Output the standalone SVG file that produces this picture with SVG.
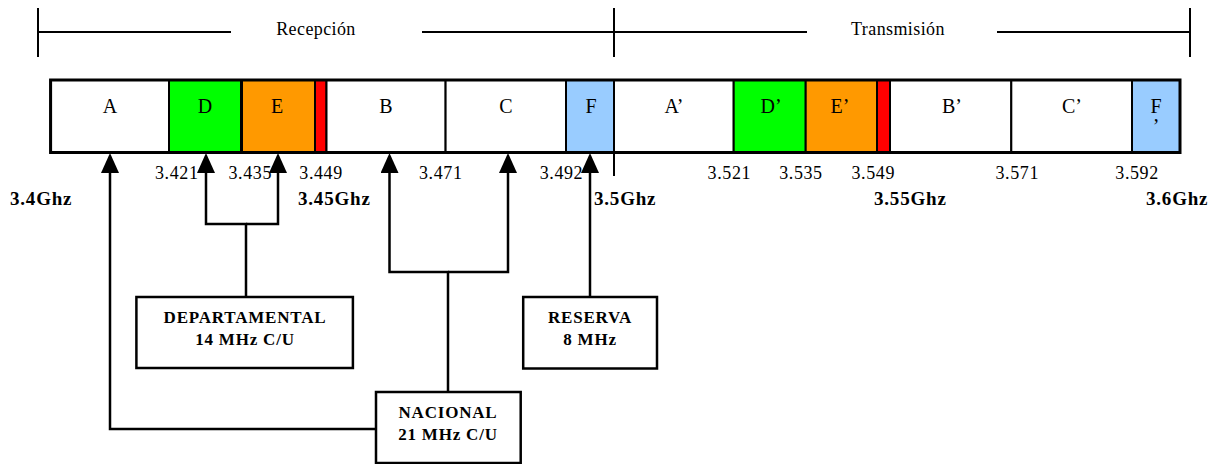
<svg xmlns="http://www.w3.org/2000/svg" width="1224" height="464" viewBox="0 0 1224 464">
<style>
.t{font-family:"Liberation Serif","Times New Roman",serif;fill:#000}
.hdr{font-size:18px;letter-spacing:0.4px;text-anchor:middle}
.lbl{font-size:20px;text-anchor:middle}
.frq{font-size:18px;letter-spacing:0.6px}
.ghz{font-size:19px;font-weight:bold;letter-spacing:0.8px}
.nd{font-size:17px;font-weight:bold;letter-spacing:0.8px;text-anchor:middle}
.cell{stroke:#000;stroke-width:2}
.w{fill:#fff}.g{fill:#00ff00}.o{fill:#ff9900}.r{fill:#ff0000}.b{fill:#99ccff}
.ln{fill:none;stroke:#000;stroke-width:2.5}
.br{fill:none;stroke:#000;stroke-width:2}
.box{fill:#fff;stroke:#000;stroke-width:2.5}
</style>
<defs>
<marker id="ah" viewBox="0 0 20 18" refX="13" refY="9" markerWidth="20" markerHeight="18" orient="auto" markerUnits="userSpaceOnUse">
<path d="M0,0 L20,9 L0,18 z" fill="#000"/>
</marker>
</defs>
<g id="brackets">
<path class="br" d="M38,8 V57 M38,32 H231 M422,32 H614 M614,8 V57 M614,32 H807 M997,32 H1190 M1190,8 V57"/>
<text class="t hdr" x="316" y="35">Recepción</text>
<text class="t hdr" x="898" y="35">Transmisión</text>
</g>
<g id="band">
<g id="cell-A"><rect class="cell w" x="50.6" y="80" width="118.4" height="72.5"/><text class="t lbl" x="110" y="113">A</text></g>
<g id="cell-D"><rect class="cell g" x="169" y="80" width="72" height="72.5"/><text class="t lbl" x="205" y="113">D</text></g>
<g id="cell-E"><rect class="cell o" x="242" y="80" width="73" height="72.5"/><text class="t lbl" x="277" y="113">E</text></g>
<g id="cell-R1"><rect class="cell r" x="315" y="80" width="11.5" height="72.5"/></g>
<g id="cell-B"><rect class="cell w" x="326.5" y="80" width="119.1" height="72.5"/><text class="t lbl" x="386" y="113">B</text></g>
<g id="cell-C"><rect class="cell w" x="445.6" y="80" width="120.4" height="72.5"/><text class="t lbl" x="506" y="113">C</text></g>
<g id="cell-F"><rect class="cell b" x="566" y="80" width="48" height="72.5"/><text class="t lbl" x="591" y="113">F</text></g>
<g id="cell-A2"><rect class="cell w" x="614" y="80" width="119.7" height="72.5"/><text class="t lbl" x="674" y="113">A’</text></g>
<g id="cell-D2"><rect class="cell g" x="733.7" y="80" width="72" height="72.5"/><text class="t lbl" x="771" y="113">D’</text></g>
<g id="cell-E2"><rect class="cell o" x="805.7" y="80" width="71.3" height="72.5"/><text class="t lbl" x="840" y="113">E’</text></g>
<g id="cell-R2"><rect class="cell r" x="877" y="80" width="13" height="72.5"/></g>
<g id="cell-B2"><rect class="cell w" x="890" y="80" width="121.3" height="72.5"/><text class="t lbl" x="952" y="113">B’</text></g>
<g id="cell-C2"><rect class="cell w" x="1011.3" y="80" width="120.7" height="72.5"/><text class="t lbl" x="1072" y="113">C’</text></g>
<g id="cell-F2"><rect class="cell b" x="1132" y="80" width="48" height="72.5"/><text class="t lbl" x="1156" y="113">F</text><text class="t lbl" x="1156" y="133">’</text></g>
<rect x="50.6" y="80" width="1129.4" height="72.5" fill="none" stroke="#000" stroke-width="3"/>
<path class="br" d="M614,152 V176"/>
</g>
<g id="freqs">
<text class="t frq" x="155" y="179">3.421</text>
<text class="t frq" x="228.5" y="179">3.435</text>
<text class="t frq" x="299.3" y="179">3.449</text>
<text class="t frq" x="419" y="179">3.471</text>
<text class="t frq" x="539.7" y="179">3.492</text>
<text class="t frq" x="707.6" y="179">3.521</text>
<text class="t frq" x="779.2" y="179">3.535</text>
<text class="t frq" x="851.5" y="179">3.549</text>
<text class="t frq" x="995.5" y="179">3.571</text>
<text class="t frq" x="1115.3" y="179">3.592</text>
<text class="t ghz" x="10" y="205">3.4Ghz</text>
<text class="t ghz" x="298" y="205">3.45Ghz</text>
<text class="t ghz" x="594" y="205">3.5Ghz</text>
<text class="t ghz" x="874" y="205">3.55Ghz</text>
<text class="t ghz" x="1146" y="205">3.6Ghz</text>
</g>
<g id="connectors">
<path class="ln" d="M376,429 H110 V160" marker-end="url(#ah)"/>
<path class="ln" d="M246,297 V224 H206 V160" marker-end="url(#ah)"/>
<path class="ln" d="M246,224 H278 V160" marker-end="url(#ah)"/>
<path class="ln" d="M448,392 V272 H389.5 V160" marker-end="url(#ah)"/>
<path class="ln" d="M448,272 H508 V160" marker-end="url(#ah)"/>
<path class="ln" d="M590,297 V160" marker-end="url(#ah)"/>
</g>
<g id="departamental">
<rect class="box" x="136.4" y="297" width="216.5" height="71"/>
<text class="t nd" x="245" y="323">DEPARTAMENTAL</text>
<text class="t nd" x="245" y="345">14 MHz C/U</text>
</g>
<g id="reserva">
<rect class="box" x="523.2" y="297" width="133.8" height="71.5"/>
<text class="t nd" x="590" y="323">RESERVA</text>
<text class="t nd" x="590" y="345">8 MHz</text>
</g>
<g id="nacional">
<rect class="box" x="376" y="392" width="144.7" height="71"/>
<text class="t nd" x="448" y="418">NACIONAL</text>
<text class="t nd" x="448" y="440">21 MHz C/U</text>
</g>
</svg>
